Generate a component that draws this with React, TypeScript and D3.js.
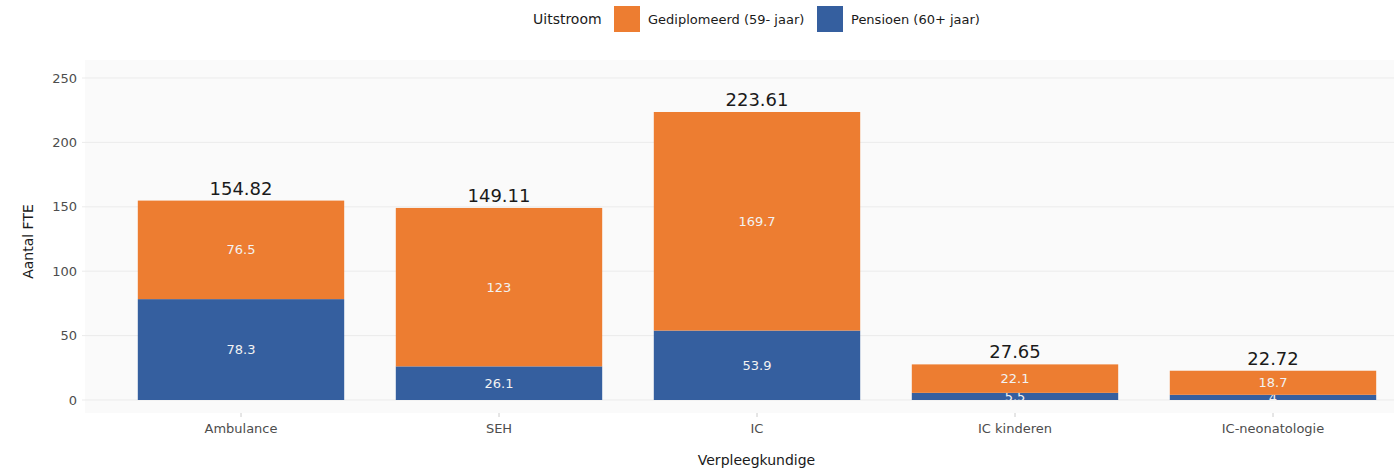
import React, { useEffect, useRef } from "react";
import * as d3 from "d3";

const categories = ["Ambulance", "SEH", "IC", "IC kinderen", "IC-neonatologie"];
const pensioen = [78.32, 26.11, 53.91, 5.54, 4.02];
const gediplomeerd = [76.5, 123.0, 169.7, 22.11, 18.7];
const yTicks = [0, 50, 100, 150, 200, 250];

const ORANGE = "#ED7D31";
const BLUE = "#355F9F";
const FONT = "DejaVu Sans, sans-serif";

export default function App() {
  const ref = useRef<SVGSVGElement>(null);

  useEffect(() => {
    const svg = d3.select(ref.current);
    svg.selectAll("*").remove();

    const plot = { left: 85, right: 1394, top: 60, bottom: 413 };

    const x = d3.scaleBand().domain(categories).range([112, 1402]).paddingInner(0.2).paddingOuter(0.1);
    const y = d3.scaleLinear().domain([0, 250]).range([400, 78]);

    const rows = categories.map((c, i) => ({
      cat: c,
      pensioen: pensioen[i],
      gediplomeerd: gediplomeerd[i],
    }));
    const stack = d3.stack<any>().keys(["pensioen", "gediplomeerd"])(rows);
    const colors: Record<string, string> = { pensioen: BLUE, gediplomeerd: ORANGE };

    // background
    svg.append("rect")
      .attr("x", plot.left).attr("y", plot.top)
      .attr("width", plot.right - plot.left).attr("height", plot.bottom - plot.top)
      .attr("fill", "#fafafa");

    // grid
    svg.append("g").selectAll("line")
      .data(yTicks)
      .join("line")
      .attr("x1", 82).attr("x2", plot.right)
      .attr("y1", d => y(d)).attr("y2", d => y(d))
      .attr("stroke", "#ebebeb").attr("stroke-width", 1);

    // y tick labels
    svg.append("g").selectAll("text")
      .data(yTicks)
      .join("text")
      .attr("x", 77).attr("y", d => y(d))
      .attr("dy", "0.35em")
      .attr("text-anchor", "end")
      .attr("font-family", FONT).attr("font-size", 13)
      .attr("fill", "#4d4d4d")
      .text(d => d);

    // x ticks
    const xg = svg.append("g");
    xg.selectAll("line")
      .data(categories)
      .join("line")
      .attr("x1", d => x(d)! + x.bandwidth() / 2).attr("x2", d => x(d)! + x.bandwidth() / 2)
      .attr("y1", plot.bottom).attr("y2", plot.bottom + 4)
      .attr("stroke", "#cccccc");
    xg.selectAll("text")
      .data(categories)
      .join("text")
      .attr("x", d => x(d)! + x.bandwidth() / 2).attr("y", 428)
      .attr("dy", "0.35em")
      .attr("text-anchor", "middle")
      .attr("font-family", FONT).attr("font-size", 13)
      .attr("fill", "#4d4d4d")
      .text(d => d);

    // clip for bars and inner labels
    svg.append("clipPath").attr("id", "plotclip")
      .append("rect")
      .attr("x", plot.left).attr("y", plot.top)
      .attr("width", plot.right - plot.left).attr("height", y(0) - plot.top);

    const bars = svg.append("g").attr("clip-path", "url(#plotclip)");
    stack.forEach(layer => {
      bars.append("g").selectAll("rect")
        .data(layer)
        .join("rect")
        .attr("x", d => x(d.data.cat)!)
        .attr("width", x.bandwidth())
        .attr("y", d => y(d[1]))
        .attr("height", d => y(d[0]) - y(d[1]))
        .attr("fill", colors[layer.key]);
      bars.append("g").selectAll("text")
        .data(layer)
        .join("text")
        .attr("x", d => x(d.data.cat)! + x.bandwidth() / 2)
        .attr("y", d => y((d[0] + d[1]) / 2))
        .attr("dy", "0.35em")
        .attr("text-anchor", "middle")
        .attr("font-family", FONT).attr("font-size", 13)
        .attr("fill", "#f2f2f2")
        .text(d => String(+(d[1] - d[0]).toFixed(1)));
    });

    // totals
    svg.append("g").selectAll("text")
      .data(rows)
      .join("text")
      .attr("x", d => x(d.cat)! + x.bandwidth() / 2)
      .attr("y", d => y(d.pensioen + d.gediplomeerd) - 6)
      .attr("text-anchor", "middle")
      .attr("font-family", FONT).attr("font-size", 18)
      .attr("fill", "#1a1a1a")
      .text(d => (d.pensioen + d.gediplomeerd).toFixed(2));

    // axis titles
    svg.append("text")
      .attr("x", (plot.left + plot.right) / 2 + 17).attr("y", 460)
      .attr("dy", "0.35em")
      .attr("text-anchor", "middle")
      .attr("font-family", FONT).attr("font-size", 14)
      .attr("fill", "#1a1a1a")
      .text("Verpleegkundige");
    svg.append("text")
      .attr("transform", `translate(28,${(plot.top + plot.bottom) / 2 + 5}) rotate(-90)`)
      .attr("dy", "0.35em")
      .attr("text-anchor", "middle")
      .attr("font-family", FONT).attr("font-size", 14)
      .attr("fill", "#1a1a1a")
      .text("Aantal FTE");

    // legend
    const lg = svg.append("g");
    lg.append("text")
      .attr("x", 533).attr("y", 19).attr("dy", "0.35em")
      .attr("font-family", FONT).attr("font-size", 14)
      .attr("fill", "#1a1a1a")
      .text("Uitstroom");
    const items = [
      { label: "Gediplomeerd (59- jaar)", color: ORANGE, x: 614 },
      { label: "Pensioen (60+ jaar)", color: BLUE, x: 817 },
    ];
    items.forEach(it => {
      lg.append("rect")
        .attr("x", it.x).attr("y", 6).attr("width", 26).attr("height", 26)
        .attr("fill", it.color);
      lg.append("text")
        .attr("x", it.x + 34).attr("y", 19).attr("dy", "0.35em")
        .attr("font-family", FONT).attr("font-size", 13)
        .attr("fill", "#1a1a1a")
        .text(it.label);
    });
  }, []);

  return (
    <svg ref={ref} width={1397} height={469} style={{ position: "absolute", left: 0, top: 0, background: "#fff" }} />
  );
}
